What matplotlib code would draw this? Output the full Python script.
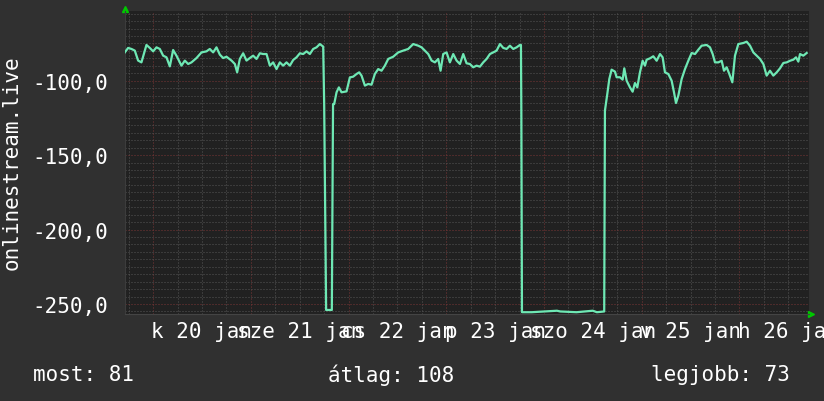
import matplotlib
matplotlib.use("Agg")
import matplotlib.pyplot as plt

# hours since 2026-01-20 00:00 and the ping value (ms, drawn negative)
hours = [
    -6.95, -6.13, -5.31, -4.49, -3.68, -2.86, -2.28, -1.63, -0.81, 0.01,
    0.83, 1.65, 2.47, 3.29, 4.11, 4.92, 5.74, 6.97, 7.79, 8.61,
    9.43, 10.66, 11.89, 13.11, 13.93, 14.75, 15.57, 16.39, 17.21, 18.03,
    19.26, 20.08, 20.65, 21.30, 22.12, 22.94, 23.76, 24.58, 25.40, 26.22,
    27.04, 27.86, 28.68, 29.49, 30.31, 31.13, 31.95, 32.77, 33.59, 34.41,
    35.23, 36.05, 36.87, 37.68, 38.50, 39.32, 40.14, 40.96, 41.78, 42.02,
    42.5, 43.9, 44.2, 44.48, 45.06, 45.63, 46.28, 47.51, 48.33, 49.15,
    49.97, 50.62, 51.20, 52.02, 52.84, 53.65, 54.47, 55.29, 56.11, 56.93,
    57.75, 58.98, 60.21, 61.44, 62.66, 63.89, 65.12, 65.94, 66.76, 67.58,
    68.40, 69.22, 70.03, 70.61, 71.26, 72.08, 72.90, 73.72, 74.54, 75.36,
    76.18, 76.99, 77.81, 78.63, 79.45, 80.27, 81.09, 81.91, 82.73, 83.55,
    84.37, 85.19, 86.01, 86.82, 87.64, 88.46, 89.28, 90.10, 90.35, 90.45,
    90.6, 93.0, 96.0, 99.2, 100.0, 104.0, 106.0, 108.0, 109.0, 110.8,
    110.98, 111.56, 112.05, 112.62, 113.44, 113.85, 114.67, 115.32, 115.73, 116.31,
    117.13, 117.78, 118.35, 118.93, 119.58, 120.24, 120.81, 121.22, 122.04, 122.86,
    123.68, 124.50, 125.15, 125.72, 126.54, 127.36, 127.94, 128.43, 129.00, 129.82,
    130.64, 131.46, 132.28, 133.10, 133.91, 134.73, 135.96, 136.78, 137.44, 138.01,
    138.83, 139.65, 140.22, 140.88, 141.53, 142.27, 142.92, 143.74, 144.97, 145.79,
    146.61, 147.43, 148.25, 149.07, 149.89, 150.70, 151.52, 152.34, 153.16, 153.98,
    154.80, 155.62, 156.44, 157.26, 157.91, 158.48, 158.89, 159.71, 160.53,
]
ping = [
    -81.0, -78.0, -78.7, -79.8, -86.5, -87.7, -82.1, -76.0, -78.0, -80.3,
    -77.6, -78.7, -83.2, -84.3, -90.4, -79.4, -83.2, -89.9, -86.5, -88.8,
    -87.7, -84.8, -81.0, -80.3, -78.7, -81.0, -77.6, -82.5, -84.8, -83.9,
    -86.5, -88.8, -94.4, -85.4, -81.6, -86.5, -84.8, -83.2, -85.4, -81.6,
    -82.1, -82.1, -89.9, -87.7, -92.2, -87.7, -89.9, -87.7, -89.9, -86.1,
    -84.3, -81.6, -82.1, -80.3, -82.1, -78.7, -77.6, -75.4, -77.1, -115.7,
    -254.0, -254.0, -115.7, -115.7, -107.8, -104.5, -107.8, -107.2, -97.8, -97.3,
    -95.5, -94.4, -96.6, -103.3, -102.2, -102.7, -95.5, -92.2, -93.3, -89.9,
    -85.4, -83.9, -81.0, -79.8, -78.7, -75.4, -76.5, -77.6, -79.8, -82.1,
    -86.5, -87.7, -85.4, -93.3, -82.1, -81.0, -87.7, -82.1, -86.5, -88.8,
    -82.1, -88.3, -88.8, -91.0, -89.9, -90.6, -87.7, -85.4, -82.1, -81.0,
    -79.8, -75.4, -78.0, -78.7, -76.5, -78.7, -77.6, -76.0, -76.0, -122.0,
    -255.5, -255.5, -255.0, -254.5, -255.0, -255.5, -255.0, -254.5, -255.5, -255.0,
    -120.1, -108.9, -98.9, -92.6, -93.9, -97.7, -97.7, -99.3, -91.7, -100.0,
    -104.5, -107.4, -101.6, -104.5, -94.4, -86.6, -89.9, -85.9, -85.0, -83.6,
    -86.6, -82.1, -84.3, -94.4, -95.5, -100.0, -107.8, -115.0, -110.1, -98.9,
    -92.2, -86.6, -81.4, -82.1, -79.2, -76.5, -76.0, -77.6, -82.1, -87.7,
    -87.7, -86.6, -93.3, -91.0, -95.5, -101.1, -83.2, -75.4, -74.7, -73.8,
    -76.5, -81.0, -83.2, -85.4, -88.8, -96.6, -93.3, -96.6, -94.4, -91.7,
    -88.1, -87.7, -86.6, -85.9, -84.3, -87.2, -82.1, -83.2, -81.4,
]

day_labels = ["k 20 jan", "sze 21 jan", "cs 22 jan", "p 23 jan",
              "szo 24 jan", "v 25 jan", "h 26 jan"]
y_ticks = [-100, -150, -200, -250]
legend_texts = ["most: 81", "átlag: 108", "legjobb: 73"]
series_name = "onlinestream.live"

# colours
outer_bg = "#303030"
canvas_bg = "#212121"
minor_grid = "#555555"
major_grid = "#7a3636"
line_color = "#6ee8b4"
arrow_color = "#00c800"
text_color = "#ffffff"
mono = "DejaVu Sans Mono"
fsize = 15

fig = plt.figure(figsize=(8.24, 4.02), dpi=100, facecolor=outer_bg)
ax = fig.add_axes([125 / 824, 1 - 315 / 402, 684 / 824, 303 / 402])
ax.set_facecolor(canvas_bg)
ax.set_xlim(-6.9, 161.1)
ax.set_ylim(-256.7, -53.2)

# grid: every 6 hours / 5 ms, red lines every day / 50 ms
for h in range(-6, 162, 6):
    c = major_grid if h % 24 == 0 else minor_grid
    ax.axvline(h, color=c, lw=0.72, ls=(0, (1, 2)), zorder=1)
for v in range(-255, -54, 5):
    c = major_grid if v % 50 == 0 else minor_grid
    ax.axhline(v, color=c, lw=0.72, ls=(0, (1, 2)), zorder=1)

ax.plot(hours, ping, color=line_color, lw=1.6, zorder=3)

# labels sit in the middle of each day
label_pos = [12 + 24 * i for i in range(len(day_labels))]
ax.set_xticks(label_pos, day_labels)
ax.set_yticks(y_ticks, [f"{v:.1f}".replace(".", ",") for v in y_ticks])
ax.tick_params(length=0, colors=text_color, labelsize=fsize)
ax.tick_params(axis="y", pad=12)
ax.tick_params(axis="x", pad=5)
for lab in ax.get_xticklabels() + ax.get_yticklabels():
    lab.set_family(mono)

for s in ax.spines.values():
    s.set_visible(False)
ax.spines["left"].set_visible(True)
ax.spines["left"].set_color("#3c3c3c")
ax.spines["bottom"].set_visible(True)
ax.spines["bottom"].set_color("#444444")

# little green arrows at the axis ends
ax.plot([0], [1.005], marker="^", color=arrow_color, ms=5, transform=ax.transAxes, clip_on=False)
ax.plot([1.003], [0], marker=">", color=arrow_color, ms=5, transform=ax.transAxes, clip_on=False)

fig.text(12 / 824, 1 - 163 / 402, series_name, rotation=90, ha="center", va="center",
         color=text_color, family=mono, fontsize=fsize)

for txt, xpos in zip(legend_texts, [33, 328, 651]):
    fig.text(xpos / 824, 1 - 375 / 402, txt, ha="left", va="center",
             color=text_color, family=mono, fontsize=fsize)

fig.savefig("out.png", dpi=100, facecolor=outer_bg)
